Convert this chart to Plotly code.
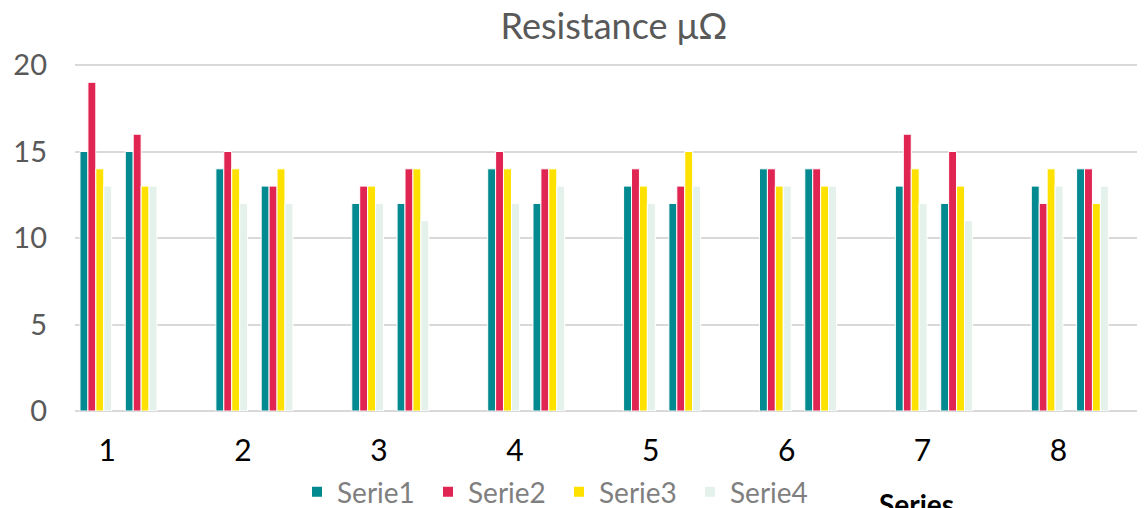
import plotly.graph_objects as go

# 8 groups, each with two sub-clusters (a, b) of 4 series
groups = ["1", "2", "3", "4", "5", "6", "7", "8"]
serie1 = [15, 15, 14, 13, 12, 12, 14, 12, 13, 12, 14, 14, 13, 12, 13, 14]
serie2 = [19, 16, 15, 13, 13, 14, 15, 14, 14, 13, 14, 14, 16, 15, 12, 14]
serie3 = [14, 13, 14, 14, 13, 14, 14, 14, 13, 15, 13, 13, 14, 13, 14, 12]
serie4 = [13, 13, 12, 12, 12, 11, 12, 13, 12, 13, 13, 13, 12, 11, 13, 13]

series = {"Serie1": serie1, "Serie2": serie2, "Serie3": serie3, "Serie4": serie4}
colors = {"Serie1": "#038a90", "Serie2": "#e02553", "Serie3": "#ffe100", "Serie4": "#e4f2eb"}

# slot positions: each group takes 3 slots (a, b, empty gap)
xpos = [3 * g + s for g in range(len(groups)) for s in range(2)]

fig = go.Figure()
for name, vals in series.items():
    fig.add_trace(go.Bar(
        x=xpos,
        y=vals,
        name=name,
        marker=dict(color=colors[name], line=dict(color="white", width=1)),
    ))

# page body adds an 8px margin, so the figure is 8px smaller each way
W, H = 1137, 500

fig.update_layout(
    width=W,
    height=H,
    barmode="group",
    bargap=0.3,
    bargroupgap=0,
    plot_bgcolor="white",
    paper_bgcolor="white",
    font=dict(family="Lato", color="#595959"),
    margin=dict(l=67, r=0, t=52, b=97, autoexpand=False),
    title=dict(
        text="Resistance μΩ",
        x=606 / W, xref="container", xanchor="center",
        y=1 - 18 / H, yref="container", yanchor="middle",
        font=dict(size=36, color="#595959", family="Lato"),
    ),
    xaxis=dict(
        range=[-0.46, 23.16],
        tickvals=[3 * g + 0.25 for g in range(len(groups))],
        ticktext=groups,
        tickfont=dict(size=30, color="black"),
        showgrid=False,
        zeroline=False,
        showline=False,
        ticks="",
        automargin=False,
        ticklabelstandoff=19,
    ),
    yaxis=dict(
        range=[0, 20.29],
        tickvals=[0, 5, 10, 15, 20],
        tickfont=dict(size=29, color="#595959"),
        showgrid=True,
        gridcolor="#d9d9d9",
        gridwidth=2,
        zeroline=True,
        zerolinecolor="#d9d9d9",
        zerolinewidth=2,
        ticks="",
        automargin=False,
        ticklabelstandoff=27,
    ),
    legend=dict(
        orientation="h",
        x=289 / W, xref="container", xanchor="left",
        y=1 - 484 / H, yref="container", yanchor="middle",
        font=dict(size=28, color="#7f7f7f"),
        itemsizing="constant",
        entrywidth=86,
    ),
    showlegend=True,
)

fig.add_annotation(
    text="<b>Series</b>",
    xref="paper", yref="paper",
    x=(908 - 67) / 1070, y=(403 - 477) / 351,
    xanchor="center", yanchor="top",
    showarrow=False,
    font=dict(size=28, color="black", family="Lato"),
)

fig.write_html("out.html")
